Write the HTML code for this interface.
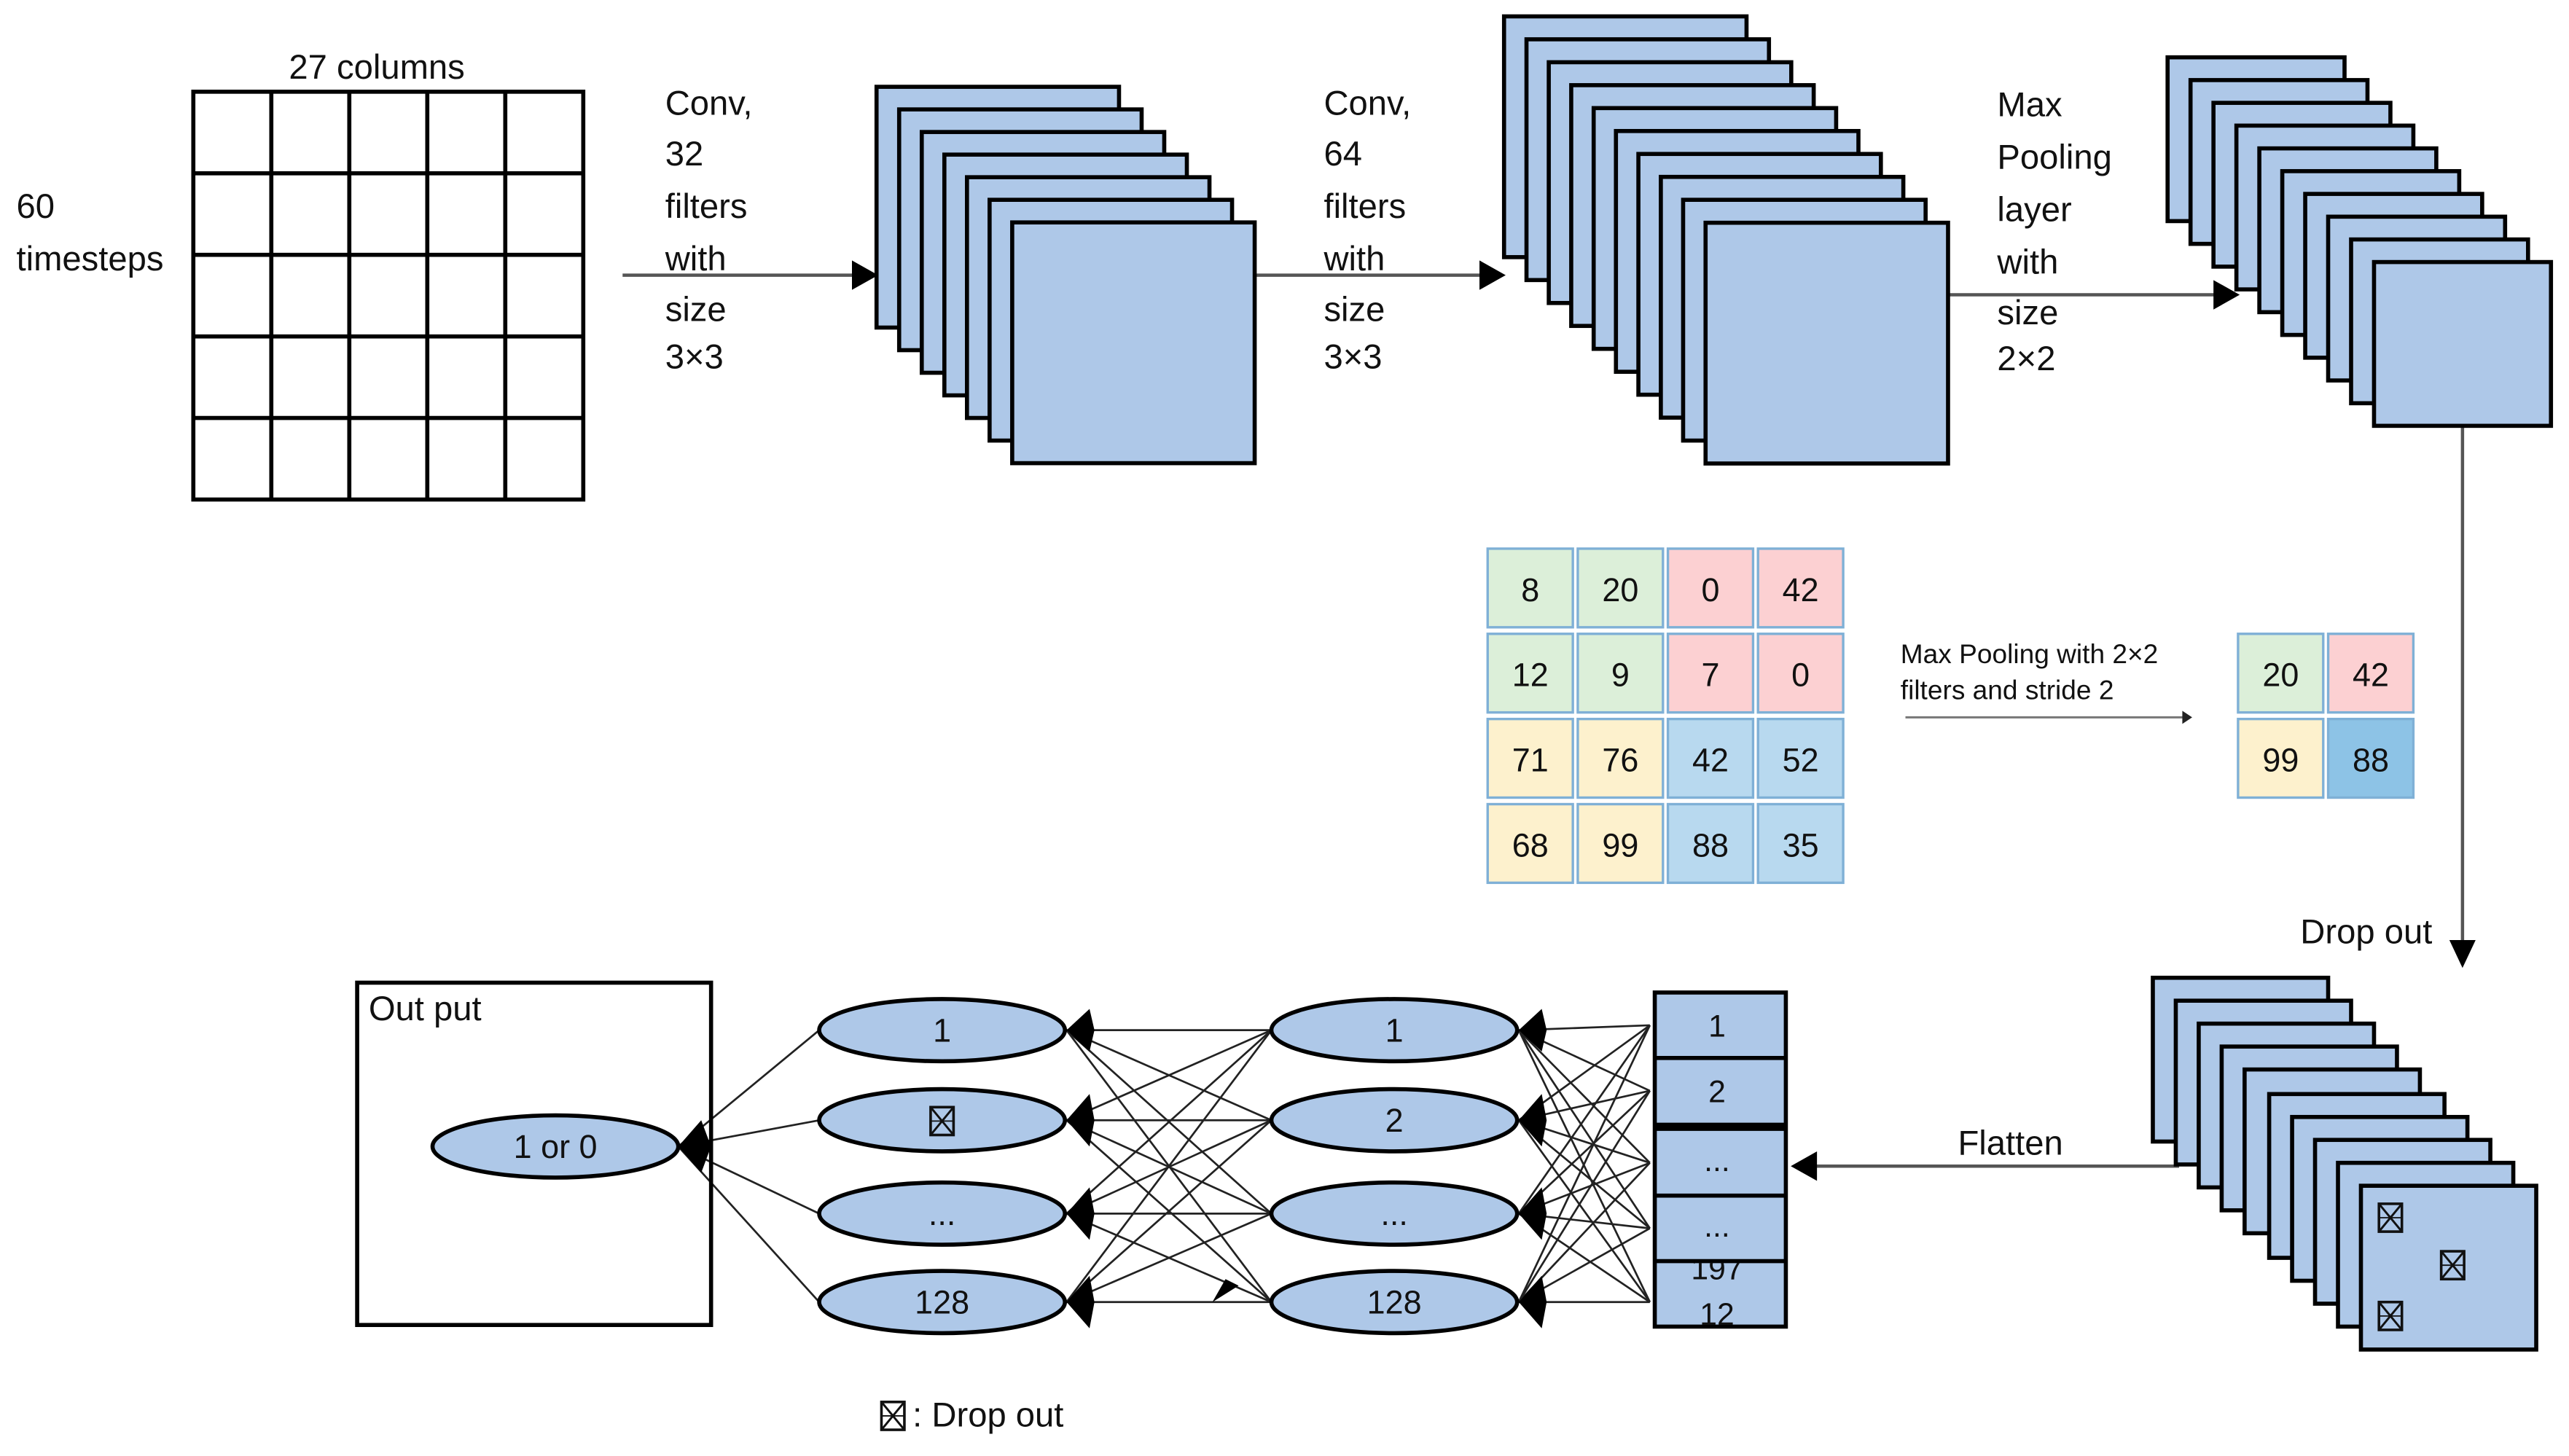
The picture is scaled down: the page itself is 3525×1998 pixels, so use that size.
<!DOCTYPE html>
<html><head><meta charset="utf-8"><style>
html,body{margin:0;padding:0;background:#fff;}
svg{display:block;}
text{font-family:"Liberation Sans",sans-serif;fill:#111;}
</style></head><body>
<svg width="3525" height="1998" viewBox="0 0 1568 889" preserveAspectRatio="none" xmlns="http://www.w3.org/2000/svg">
<defs>
<g id="xb"><rect x="0" y="0" width="14" height="17" fill="none" stroke="#111" stroke-width="1.6"/><line x1="0" y1="0" x2="14" y2="17" stroke="#111" stroke-width="1.3"/><line x1="14" y1="0" x2="0" y2="17" stroke="#111" stroke-width="1.3"/><line x1="0" y1="8.5" x2="14" y2="8.5" stroke="#111" stroke-width="0.8"/></g>
</defs>
<rect width="1568" height="889" fill="#fff"/>

<!-- input grid -->
<g stroke="#000" stroke-width="2.5" fill="none">
<rect x="118" y="56" width="238" height="249"/>
<line x1="165.6" y1="56" x2="165.6" y2="305"/><line x1="213.2" y1="56" x2="213.2" y2="305"/><line x1="260.8" y1="56" x2="260.8" y2="305"/><line x1="308.4" y1="56" x2="308.4" y2="305"/>
<line x1="118" y1="105.8" x2="356" y2="105.8"/><line x1="118" y1="155.6" x2="356" y2="155.6"/><line x1="118" y1="205.4" x2="356" y2="205.4"/><line x1="118" y1="255.2" x2="356" y2="255.2"/>
</g>
<text x="230" y="48" font-size="21" text-anchor="middle">27 columns</text>
<text x="10" y="133" font-size="21">60</text>
<text x="10" y="165" font-size="21">timesteps</text>

<!-- arrows top -->
<g stroke="#555" stroke-width="2"><line x1="380" y1="168" x2="522" y2="168"/><line x1="765" y1="168" x2="906" y2="168"/><line x1="1189" y1="180" x2="1352" y2="180"/><line x1="1503" y1="260" x2="1503" y2="578"/><line x1="1330" y1="712" x2="1108" y2="712"/></g>
<g fill="#000"><polygon points="536,168 520,159 520,177"/><polygon points="919,168 903,159 903,177"/><polygon points="1367,180 1351,171 1351,189"/><polygon points="1503,591 1495,574 1511,574"/><polygon points="1093,712 1109,703 1109,721"/></g>

<g font-size="21">
<text x="406" y="70">Conv,</text><text x="406" y="101">32</text><text x="406" y="133">filters</text><text x="406" y="165">with</text><text x="406" y="196">size</text><text x="406" y="225">3×3</text>
<text x="808" y="70">Conv,</text><text x="808" y="101">64</text><text x="808" y="133">filters</text><text x="808" y="165">with</text><text x="808" y="196">size</text><text x="808" y="225">3×3</text>
<text x="1219" y="71">Max</text><text x="1219" y="103">Pooling</text><text x="1219" y="135">layer</text><text x="1219" y="167">with</text><text x="1219" y="198">size</text><text x="1219" y="226">2×2</text>
<text x="1404" y="576">Drop out</text>
<text x="1195" y="705">Flatten</text>
</g>

<g fill="#aec8e8" stroke="#000" stroke-width="2.5">
<!-- stack1 -->
<rect x="535" y="53" width="148" height="147"/><rect x="548.8" y="66.8" width="148" height="147"/><rect x="562.6" y="80.6" width="148" height="147"/><rect x="576.4" y="94.4" width="148" height="147"/><rect x="590.2" y="108.2" width="148" height="147"/><rect x="604" y="122" width="148" height="147"/><rect x="617.8" y="135.8" width="148" height="147"/>
<!-- stack2 -->
<rect x="918" y="10" width="148" height="147"/><rect x="931.7" y="24" width="148" height="147"/><rect x="945.3" y="38" width="148" height="147"/><rect x="959" y="52" width="148" height="147"/><rect x="972.7" y="66" width="148" height="147"/><rect x="986.3" y="80" width="148" height="147"/><rect x="1000" y="94" width="148" height="147"/><rect x="1013.7" y="108" width="148" height="147"/><rect x="1027.3" y="122" width="148" height="147"/><rect x="1041" y="136" width="148" height="147"/>
<!-- stack3 -->
<rect x="1323" y="35" width="108" height="100"/><rect x="1337" y="48.9" width="108" height="100"/><rect x="1351" y="62.8" width="108" height="100"/><rect x="1365" y="76.7" width="108" height="100"/><rect x="1379" y="90.6" width="108" height="100"/><rect x="1393" y="104.5" width="108" height="100"/><rect x="1407" y="118.4" width="108" height="100"/><rect x="1421" y="132.3" width="108" height="100"/><rect x="1435" y="146.2" width="108" height="100"/><rect x="1449" y="160" width="108" height="100"/>
<!-- stack4 -->
<rect x="1314" y="597" width="107" height="100"/><rect x="1328" y="611" width="107" height="100"/><rect x="1342" y="625" width="107" height="100"/><rect x="1356" y="639" width="107" height="100"/><rect x="1370" y="653" width="107" height="100"/><rect x="1385" y="668" width="107" height="100"/><rect x="1399" y="682" width="107" height="100"/><rect x="1413" y="696" width="107" height="100"/><rect x="1427" y="710" width="107" height="100"/><rect x="1441" y="724" width="107" height="100"/>
</g>
<use href="#xb" x="1452" y="735"/><use href="#xb" x="1490" y="764"/><use href="#xb" x="1452" y="795"/>

<!-- pooling table -->
<g stroke="#7fb0d6" stroke-width="1.5" font-size="20">
<rect x="908" y="335" width="52" height="48" fill="#dcefd9"/><rect x="963" y="335" width="52" height="48" fill="#dcefd9"/><rect x="1018" y="335" width="52" height="48" fill="#fcd0d2"/><rect x="1073" y="335" width="52" height="48" fill="#fcd0d2"/>
<rect x="908" y="387" width="52" height="48" fill="#dcefd9"/><rect x="963" y="387" width="52" height="48" fill="#dcefd9"/><rect x="1018" y="387" width="52" height="48" fill="#fcd0d2"/><rect x="1073" y="387" width="52" height="48" fill="#fcd0d2"/>
<rect x="908" y="439" width="52" height="48" fill="#fdf1cd"/><rect x="963" y="439" width="52" height="48" fill="#fdf1cd"/><rect x="1018" y="439" width="52" height="48" fill="#b8d9ef"/><rect x="1073" y="439" width="52" height="48" fill="#b8d9ef"/>
<rect x="908" y="491" width="52" height="48" fill="#fdf1cd"/><rect x="963" y="491" width="52" height="48" fill="#fdf1cd"/><rect x="1018" y="491" width="52" height="48" fill="#b8d9ef"/><rect x="1073" y="491" width="52" height="48" fill="#b8d9ef"/>
<rect x="1366" y="387" width="52" height="48" fill="#dcefd9"/><rect x="1421" y="387" width="52" height="48" fill="#fcd0d2"/>
<rect x="1366" y="439" width="52" height="48" fill="#fdf1cd"/><rect x="1421" y="439" width="52" height="48" fill="#8dc3e6"/>
</g>
<g font-size="20" text-anchor="middle">
<text x="934" y="367">8</text><text x="989" y="367">20</text><text x="1044" y="367">0</text><text x="1099" y="367">42</text>
<text x="934" y="419">12</text><text x="989" y="419">9</text><text x="1044" y="419">7</text><text x="1099" y="419">0</text>
<text x="934" y="471">71</text><text x="989" y="471">76</text><text x="1044" y="471">42</text><text x="1099" y="471">52</text>
<text x="934" y="523">68</text><text x="989" y="523">99</text><text x="1044" y="523">88</text><text x="1099" y="523">35</text>
<text x="1392" y="419">20</text><text x="1447" y="419">42</text><text x="1392" y="471">99</text><text x="1447" y="471">88</text>
</g>
<text x="1160" y="405" font-size="16.5">Max Pooling with 2×2</text>
<text x="1160" y="427" font-size="16.5">filters and stride 2</text>
<line x1="1163" y1="438" x2="1334" y2="438" stroke="#777" stroke-width="1.3"/><polygon points="1338,438 1332,434 1332,442" fill="#222"/>

<!-- flatten column -->
<g fill="#aec8e8" stroke="#000" stroke-width="2.5">
<rect x="1010" y="606" width="80" height="204"/>
</g>
<g stroke="#000"><line x1="1010" y1="646" x2="1090" y2="646" stroke-width="2.5"/><line x1="1010" y1="688" x2="1090" y2="688" stroke-width="5"/><line x1="1010" y1="730" x2="1090" y2="730" stroke-width="2.5"/><line x1="1010" y1="770" x2="1090" y2="770" stroke-width="2.5"/></g>
<g font-size="19" text-anchor="middle">
<text x="1048" y="633">1</text><text x="1048" y="673">2</text><text x="1048" y="715">...</text><text x="1048" y="755">...</text>
</g>
<svg x="1011" y="771" width="78" height="38" viewBox="0 0 78 38"><text x="37" y="10" font-size="19" text-anchor="middle">197</text><text x="37" y="38" font-size="19" text-anchor="middle">12</text></svg>

<!-- connections -->
<g stroke="#222" stroke-width="1.2">
<line x1="1007" y1="626" x2="927" y2="629"/><line x1="1007" y1="626" x2="927" y2="684"/><line x1="1007" y1="626" x2="927" y2="741"/><line x1="1007" y1="626" x2="927" y2="795"/>
<line x1="1007" y1="666" x2="927" y2="629"/><line x1="1007" y1="666" x2="927" y2="684"/><line x1="1007" y1="666" x2="927" y2="741"/><line x1="1007" y1="666" x2="927" y2="795"/>
<line x1="1007" y1="710" x2="927" y2="629"/><line x1="1007" y1="710" x2="927" y2="684"/><line x1="1007" y1="710" x2="927" y2="741"/><line x1="1007" y1="710" x2="927" y2="795"/>
<line x1="1007" y1="750" x2="927" y2="629"/><line x1="1007" y1="750" x2="927" y2="684"/><line x1="1007" y1="750" x2="927" y2="741"/><line x1="1007" y1="750" x2="927" y2="795"/>
<line x1="1007" y1="795" x2="927" y2="629"/><line x1="1007" y1="795" x2="927" y2="684"/><line x1="1007" y1="795" x2="927" y2="741"/><line x1="1007" y1="795" x2="927" y2="795"/>
<line x1="776" y1="629" x2="651" y2="629"/><line x1="776" y1="629" x2="651" y2="684"/><line x1="776" y1="629" x2="651" y2="741"/><line x1="776" y1="629" x2="651" y2="795"/>
<line x1="776" y1="684" x2="651" y2="629"/><line x1="776" y1="684" x2="651" y2="684"/><line x1="776" y1="684" x2="651" y2="741"/><line x1="776" y1="684" x2="651" y2="795"/>
<line x1="776" y1="741" x2="651" y2="629"/><line x1="776" y1="741" x2="651" y2="684"/><line x1="776" y1="741" x2="651" y2="741"/><line x1="776" y1="741" x2="651" y2="795"/>
<line x1="776" y1="795" x2="651" y2="629"/><line x1="776" y1="795" x2="651" y2="684"/><line x1="776" y1="795" x2="651" y2="741"/><line x1="776" y1="795" x2="651" y2="795"/>
<line x1="500" y1="629" x2="414" y2="700"/><line x1="500" y1="684" x2="414" y2="700"/><line x1="500" y1="741" x2="414" y2="700"/><line x1="500" y1="795" x2="414" y2="700"/>
</g>
<polygon points="740,795 748,781 756,785" fill="#000"/>

<!-- output box -->
<rect x="218" y="600" width="216" height="209" fill="none" stroke="#000" stroke-width="2.5"/>
<text x="225" y="623" font-size="21">Out put</text>

<g fill="#aec8e8" stroke="#000" stroke-width="2.5">
<ellipse cx="339" cy="700" rx="75" ry="19"/>
<ellipse cx="575" cy="629" rx="75" ry="19"/><ellipse cx="575" cy="684" rx="75" ry="19"/><ellipse cx="575" cy="741" rx="75" ry="19"/><ellipse cx="575" cy="795" rx="75" ry="19"/>
<ellipse cx="851" cy="629" rx="75" ry="19"/><ellipse cx="851" cy="684" rx="75" ry="19"/><ellipse cx="851" cy="741" rx="75" ry="19"/><ellipse cx="851" cy="795" rx="75" ry="19"/>
</g>
<g fill="#000">
<polygon points="414,700 428,684 434,700 428,716"/>
<polygon points="651,629 665,616 668,629 665,642"/><polygon points="651,684 665,668 668,684 665,700"/><polygon points="651,741 665,725 668,741 665,757"/><polygon points="651,795 665,779 668,795 665,811"/>
<polygon points="927,629 941,616 944,629 941,642"/><polygon points="927,684 941,668 944,684 941,700"/><polygon points="927,741 941,725 944,741 941,757"/><polygon points="927,795 941,779 944,795 941,811"/>
</g>
<g font-size="20" text-anchor="middle">
<text x="339" y="707">1  or 0</text>
<text x="575" y="636">1</text><text x="575" y="748">...</text><text x="575" y="802">128</text>
<text x="851" y="636">1</text><text x="851" y="691">2</text><text x="851" y="748">...</text><text x="851" y="802">128</text>
</g>
<use href="#xb" x="568" y="676"/>

<use href="#xb" x="538" y="856"/>
<text x="557" y="871" font-size="21">: Drop out</text>
</svg>
</body></html>
